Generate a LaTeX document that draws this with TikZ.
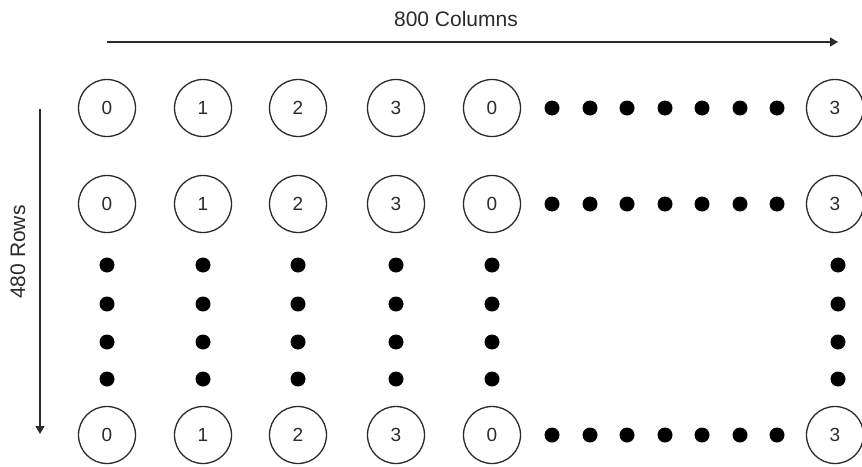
\documentclass[tikz,border=0pt]{standalone}
\usepackage{fontspec}
\setmainfont{Liberation Sans}
\usetikzlibrary{arrows.meta}
\definecolor{ink}{HTML}{2A2A2A}
\tikzset{
  pixel/.style={circle,draw=ink,line width=1.3pt,minimum size=57pt,inner sep=0pt,
    text=ink,font=\fontsize{19}{22}\selectfont},
  axisarrow/.style={draw=ink,line width=1.3pt,-{Triangle[length=8pt,width=9pt]}},
  axislabel/.style={text=ink,font=\fontsize{21}{24}\selectfont}
}

\begin{document}
\begin{tikzpicture}[x=1pt,y=-1pt]
      \useasboundingbox (0,0) rectangle (862,466);

      \path
      (107,108) node[pixel](r1c1) {0}
      (203,108) node[pixel](r1c2) {1}
      (298,108) node[pixel](r1c3) {2}
      (396,108) node[pixel](r1c4) {3}
      (492,108) node[pixel](r1c5) {0}
      (835,108) node[pixel](r1cn) {3}
      ;
      \path
      (107,204) node[pixel](r2c1) {0}
      (203,204) node[pixel](r2c2) {1}
      (298,204) node[pixel](r2c3) {2}
      (396,204) node[pixel](r2c4) {3}
      (492,204) node[pixel](r2c5) {0}
      (835,204) node[pixel](r2cn) {3}
      ;
      \path
      (107,435) node[pixel](rnc1) {0}
      (203,435) node[pixel](rnc2) {1}
      (298,435) node[pixel](rnc3) {2}
      (396,435) node[pixel](rnc4) {3}
      (492,435) node[pixel](rnc5) {0}
      (835,435) node[pixel](rncn) {3}
      ;

      \foreach \y in {108,204,435}
        \foreach \x in {552,590,627,665,702,740,777}
          \fill[black] (\x,\y) circle[radius=7.5pt];
      \foreach \x in {107,203,298,396,492,838}
        \foreach \y in {265,304,342,379}
          \fill[black] (\x,\y) circle[radius=7.5pt];

      \coordinate (colstart) at (107,42);
      \coordinate (colend) at (838,42);
      \coordinate (rowstart) at (40,109);
      \coordinate (rowend) at (40,434);

      \draw[axisarrow] (colstart) -- (colend);
      \draw[axisarrow] (rowstart) -- (rowend);

      \node[axislabel] (collabel) at (456,19) {800 Columns};
      \node[axislabel,rotate=90] (rowlabel) at (18,252) {480 Rows};
\end{tikzpicture}
\end{document}
